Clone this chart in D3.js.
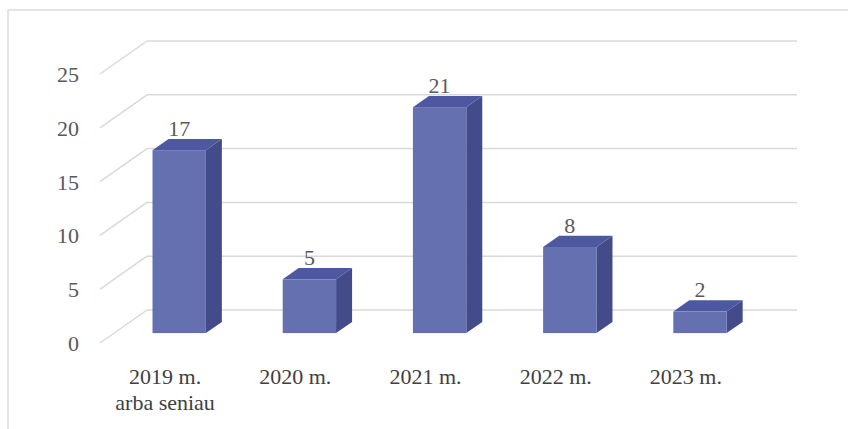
<!DOCTYPE html>
<html>
<head>
<meta charset="utf-8">
<script src="https://cdn.jsdelivr.net/npm/d3@7"></script>
<style>
  body { margin: 0; background: #fff; }
  svg { display: block; }
</style>
</head>
<body>
<svg width="848" height="429"></svg>
<script>
const categories = [["2019 m.", "arba seniau"], ["2020 m."], ["2021 m."], ["2022 m."], ["2023 m."]]
const values = [17, 5, 21, 8, 2]
const tickValues = [0, 5, 10, 15, 20, 25]

const svg = d3.select("svg")
const serif = "Liberation Serif, Tinos, Noto Serif, DejaVu Serif, FreeSerif, Times, serif"

// depth of the 3d box (front -> back wall)
const depthX = 47
const depthY = -33
// bar sits between these depth fractions
const d0 = 0.3
const d1 = 0.64

const keys = categories.map(c => c.join(" "))

const scaleX = d3.scaleBand()
  .domain(keys)
  .range([100, 751])
  .padding(0)

const scaleY = d3.scaleLinear()
  .domain([0, 25])
  .range([343, 74])

// frame
svg.append("path")
  .attr("d", "M8,429 L8,10 L848,10")
  .attr("fill", "none")
  .attr("stroke", "#dcdcdc")
  .attr("stroke-width", 1.5)

// back wall gridlines + side wall diagonals
const grid = svg.append("g").attr("class", "grid")

grid.selectAll("line.back")
  .data(tickValues)
  .enter()
  .append("line")
  .attr("class", "back")
  .attr("x1", 100 + depthX)
  .attr("x2", 797)
  .attr("y1", d => scaleY(d) + depthY)
  .attr("y2", d => scaleY(d) + depthY)
  .attr("stroke", "#d9d9d9")
  .attr("stroke-width", 1.5)

grid.selectAll("line.side")
  .data(tickValues)
  .enter()
  .append("line")
  .attr("class", "side")
  .attr("x1", 100)
  .attr("x2", 100 + depthX)
  .attr("y1", d => scaleY(d))
  .attr("y2", d => scaleY(d) + depthY)
  .attr("stroke", "#d9d9d9")
  .attr("stroke-width", 1.5)

// y tick labels
svg.append("g")
  .selectAll("text")
  .data(tickValues)
  .enter()
  .append("text")
  .attr("x", 79)
  .attr("y", d => scaleY(d) + 8)
  .attr("text-anchor", "end")
  .style("font-family", serif)
  .attr("font-size", 22)
  .attr("fill", "#595959")
  .text(d => d)

// bars
const barW = scaleX.bandwidth() * 0.41
const bars = svg.selectAll("g.bar")
  .data(values.map((v, i) => ({ v: v, key: keys[i] })))
  .enter()
  .append("g")
  .attr("class", "bar")

const geom = d => {
  const cx = scaleX(d.key) + scaleX.bandwidth() / 2
  const fx0 = cx + depthX * d0 - barW / 2
  const fx1 = fx0 + barW
  const fyB = scaleY(0) + depthY * d0
  const fyT = scaleY(d.v) + depthY * d0
  const ox = depthX * (d1 - d0)
  const oy = depthY * (d1 - d0)
  return { cx, fx0, fx1, fyB, fyT, ox, oy }
}

bars.append("path")
  .attr("d", d => {
    const g = geom(d)
    return `M${g.fx1},${g.fyB} L${g.fx1 + g.ox},${g.fyB + g.oy} L${g.fx1 + g.ox},${g.fyT + g.oy} L${g.fx1},${g.fyT} Z`
  })
  .attr("fill", "#434b8b")

bars.append("path")
  .attr("d", d => {
    const g = geom(d)
    return `M${g.fx0},${g.fyT} L${g.fx1},${g.fyT} L${g.fx1 + g.ox},${g.fyT + g.oy} L${g.fx0 + g.ox},${g.fyT + g.oy} Z`
  })
  .attr("fill", "#4e58a0")

bars.append("rect")
  .attr("x", d => geom(d).fx0)
  .attr("y", d => geom(d).fyT)
  .attr("width", barW)
  .attr("height", d => geom(d).fyB - geom(d).fyT)
  .attr("fill", "#6470b0")

// data labels
bars.append("text")
  .attr("x", d => geom(d).fx0 + barW / 2)
  .attr("y", d => geom(d).fyT + geom(d).oy - 3)
  .attr("text-anchor", "middle")
  .style("font-family", serif)
  .attr("font-size", 22)
  .attr("fill", "#595959")
  .text(d => d.v)

// category labels
const catText = svg.append("g")
  .selectAll("text")
  .data(categories)
  .enter()
  .append("text")
  .attr("x", (d, i) => scaleX(keys[i]) + scaleX.bandwidth() / 2)
  .attr("y", 384)
  .attr("text-anchor", "middle")
  .style("font-family", serif)
  .attr("font-size", 22)
  .attr("fill", "#404040")

catText.selectAll("tspan")
  .data(d => d)
  .enter()
  .append("tspan")
  .attr("x", function() { return d3.select(this.parentNode).attr("x") })
  .attr("dy", (d, i) => i === 0 ? 0 : 26)
  .text(d => d)
</script>
</body>
</html>
